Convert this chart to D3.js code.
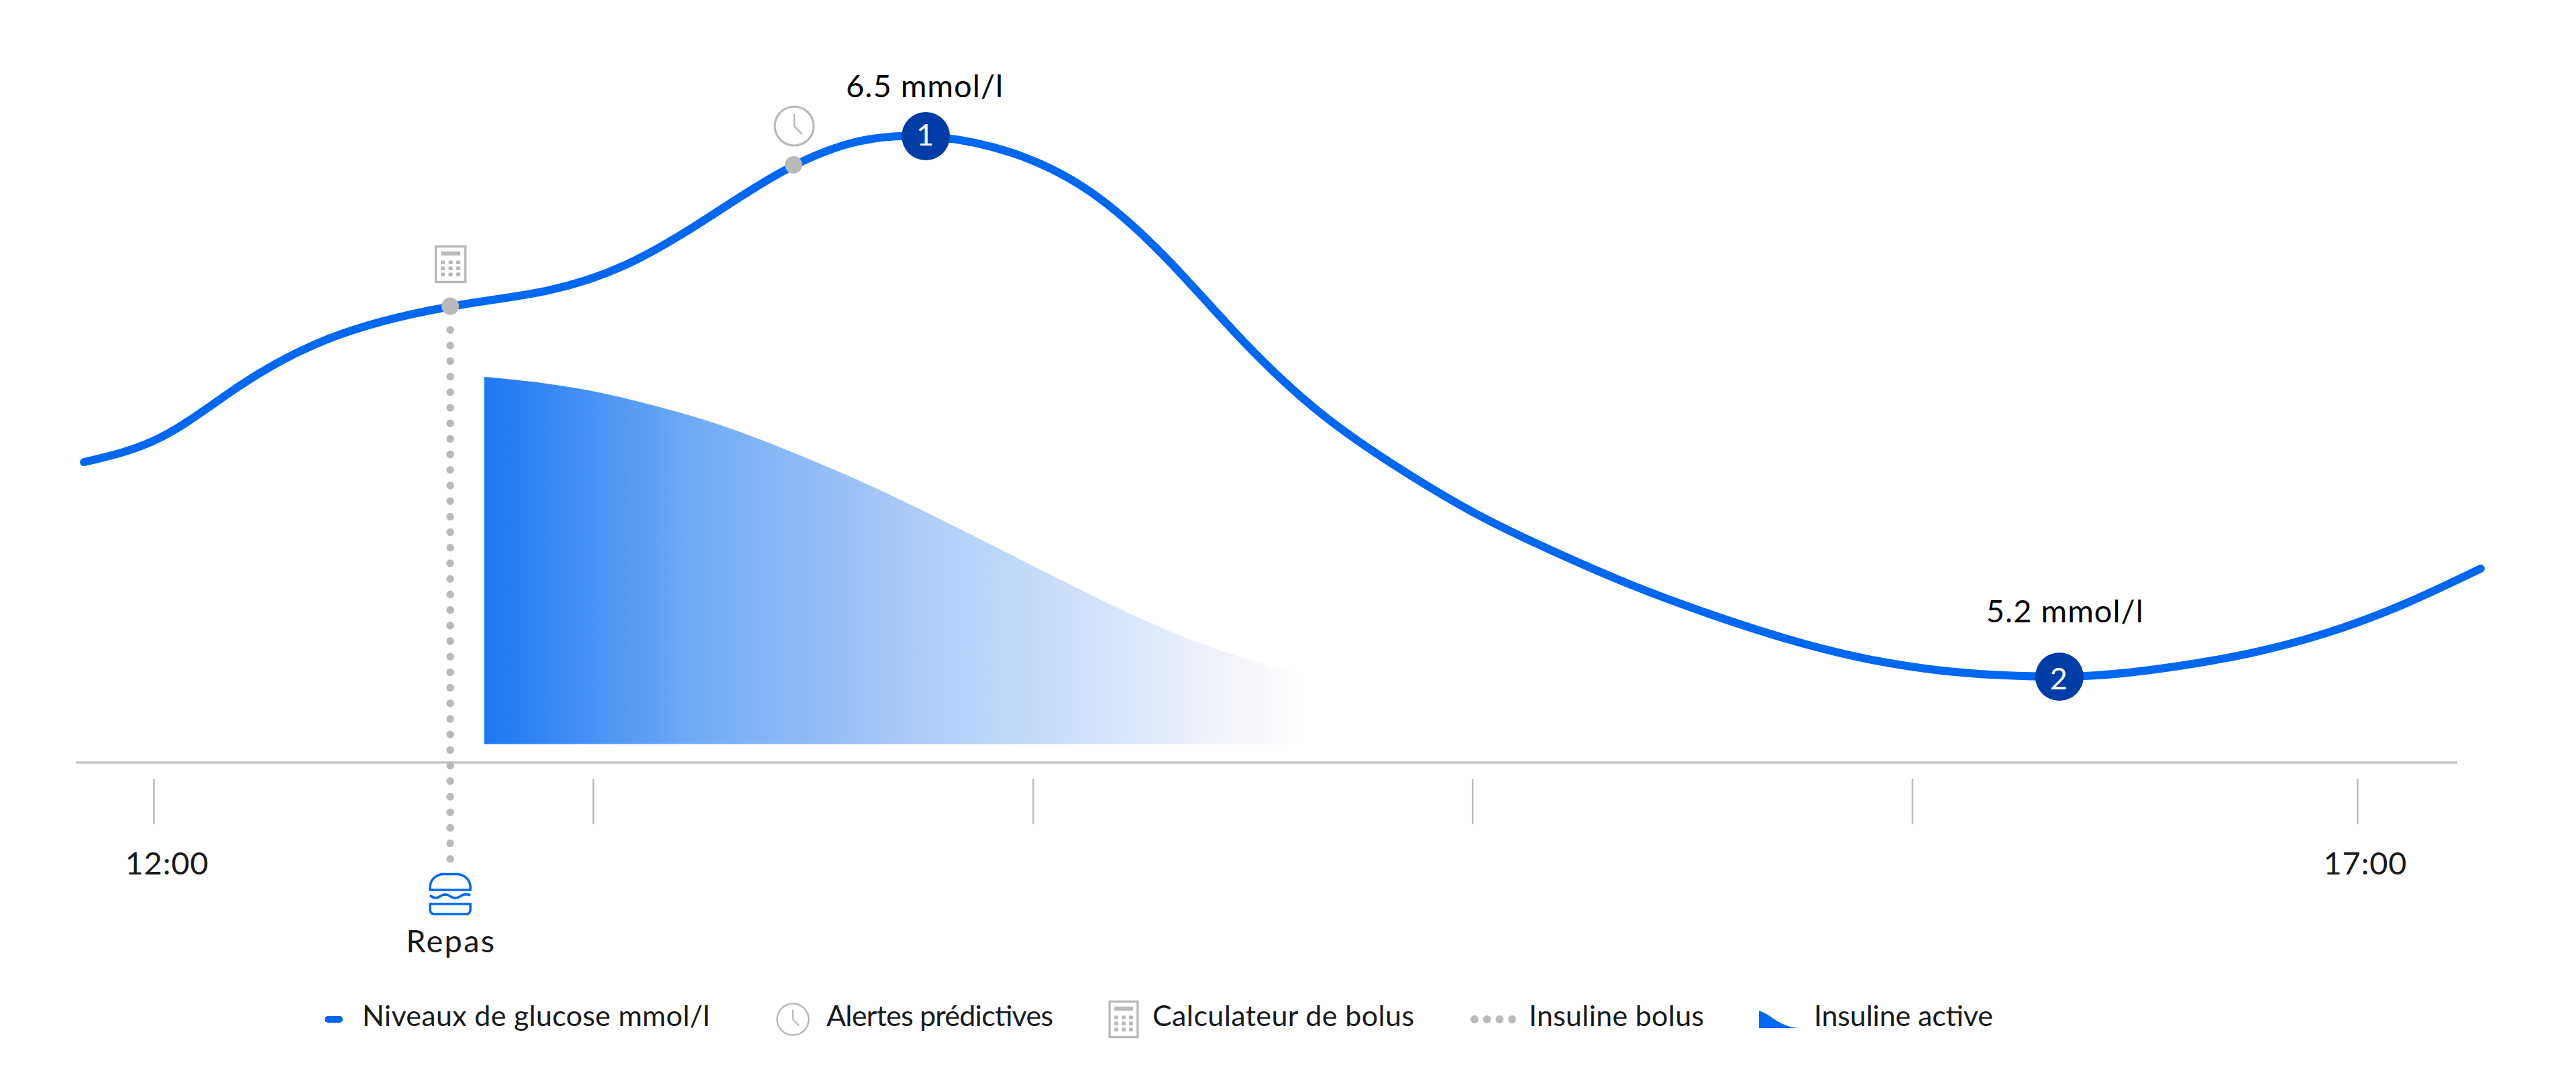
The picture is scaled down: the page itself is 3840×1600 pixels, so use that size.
<!DOCTYPE html>
<html>
<head>
<meta charset="utf-8">
<title>Glucose</title>
<script src="https://cdn.jsdelivr.net/npm/d3@7"></script>
<style>
    body { margin: 0; background: #fff; }
    text { font-family: Lato, "Open Sans", sans-serif; }
</style>
</head>
<body>
<script>
// values: time in hours, glucose in mmol/l
var glucoseHours = [11.842, 12.017, 12.193, 12.368, 12.543, 12.718, 12.895, 13.070, 13.245, 13.420,
    13.597, 13.772, 13.947, 14.123, 14.298, 14.473, 14.650, 14.825, 15.000, 15.175,
    15.352, 15.527, 15.702, 15.877, 16.053, 16.228, 16.403, 16.578, 16.755, 16.930,
    17.105, 17.280];
var glucoseValues = [5.716, 5.776, 5.898, 6.000, 6.061, 6.098, 6.129, 6.190, 6.295, 6.411,
    6.487, 6.498, 6.460, 6.368, 6.206, 6.006, 5.832, 5.702, 5.592, 5.502,
    5.421, 5.352, 5.292, 5.245, 5.215, 5.202, 5.203, 5.223, 5.256, 5.305,
    5.374, 5.460];

// active insulin, percent of the starting dose
var insulinHours = [12.750, 12.843, 12.970, 13.096, 13.222, 13.349, 13.473, 13.600,
    13.726, 13.852, 13.979, 14.105, 14.231, 14.358, 14.484, 14.604];
var insulinValues = [100, 98.9, 96.7, 93.4, 89.3, 84.2, 78.3, 71.8,
    64.7, 57.2, 49.5, 41.9, 34.6, 28.2, 23.0, 19.1];

// the small wedge in the legend has its own shape
var wedgeSteps = [0, 20, 40, 60, 80, 100];
var wedgeValues = [100, 80, 50, 25, 8, 0];

var tickHours = [12, 12.997, 13.995, 14.992, 15.990, 17];
var tickLabels = ["12:00", "", "", "", "", "17:00"];

var peakHours = [13.752, 16.324];
var peakValues = [6.5, 5.2];
var peakNames = ["1", "2"];
var peakLabels = ["6.5 mmol/l", "5.2 mmol/l"];

var mealHour = 12.673, mealGlucose = 6.091;
var alertHour = 13.452, alertGlucose = 6.431;

var legendLabels = ["Niveaux de glucose mmol/l", "Alertes prédictives", "Calculateur de bolus", "Insuline bolus", "Insuline active"];

var blue = "#0068f0", darkBlue = "#003da6", grey = "#b9b9b9", ink = "#1a1a1a";

var svg = d3.select("body").append("svg")
    .attr("width", 3840)
    .attr("height", 1600);

var x = d3.scaleLinear().domain([12, 17]).range([229, 3514]);
var y = d3.scaleLinear().domain([5.2, 6.5]).range([1009, 203]);
var yInsulin = d3.scaleLinear().domain([0, 100]).range([1109.5, 562]);

var glucose = glucoseHours.map(function(h, i) { return {h: h, v: glucoseValues[i]}; });
var insulin = insulinHours.map(function(h, i) { return {h: h, v: insulinValues[i]}; });
var wedge = wedgeSteps.map(function(s, i) { return {s: s, v: wedgeValues[i]}; });

// fade of the insulin area
var gradient = svg.append("defs").append("linearGradient").attr("id", "fade");
[[0, "#1e77f5"], [0.25, "#6eaaf5"], [0.5, "#a6c8f8"], [0.75, "#d3e3fb"], [0.92, "#f4f5fa"], [1, "#ffffff"]].forEach(function(s) {
    gradient.append("stop").attr("offset", s[0]).attr("stop-color", s[1]);
});

var insulinArea = d3.area()
    .x(function(d) { return x(d.h); })
    .y0(yInsulin(0))
    .y1(function(d) { return yInsulin(d.v); })
    .curve(d3.curveNatural);

svg.append("path")
    .datum(insulin)
    .attr("d", insulinArea)
    .attr("fill", "url(#fade)");

// axis: long rule, then detached ticks below it
svg.append("line")
    .attr("x1", 113).attr("x2", 3663)
    .attr("y1", 1137).attr("y2", 1137)
    .style("stroke", "#c4c4c4")
    .style("stroke-width", 3.5);

var xAxis = d3.axisBottom(x)
    .tickValues(tickHours)
    .tickSize(67)
    .tickFormat(function(d, i) { return tickLabels[i]; });

var axisG = svg.append("g")
    .attr("transform", "translate(0,1161.5)")
    .call(xAxis);
axisG.select(".domain").remove();
axisG.selectAll("line")
    .style("stroke", "#bbb")
    .style("stroke-width", 2.5);
axisG.selectAll("text")
    .attr("y", 142.5)
    .attr("dy", 0)
    .attr("dx", function(d, i) { return i == 0 ? 19 : 11; })
    .attr("textLength", function(d, i) { return tickLabels[i] ? 124 : null; })
    .style("font-family", "Lato")
    .style("font-size", "47px")
    .style("fill", ink);

// glucose curve
var line = d3.line()
    .x(function(d) { return x(d.h); })
    .y(function(d) { return y(d.v); })
    .curve(d3.curveNatural);

svg.append("path")
    .datum(glucose)
    .attr("d", line)
    .style("fill", "none")
    .style("stroke", blue)
    .style("stroke-width", 12)
    .style("stroke-linecap", "round");

// bolus dotted line
svg.append("line")
    .attr("x1", x(mealHour)).attr("x2", x(mealHour))
    .attr("y1", 492).attr("y2", 1282)
    .style("stroke", grey)
    .style("stroke-width", 11.5)
    .style("stroke-linecap", "round")
    .style("stroke-dasharray", "0 23.2");

svg.append("circle")
    .attr("cx", x(mealHour)).attr("cy", y(mealGlucose))
    .attr("r", 13)
    .attr("fill", grey);
svg.append("circle")
    .attr("cx", x(alertHour)).attr("cy", y(alertGlucose))
    .attr("r", 13)
    .attr("fill", grey);

function drawClock(cx, cy, k) {
    var g = svg.append("g").attr("transform", "translate(" + cx + "," + cy + ") scale(" + k + ")");
    g.append("circle").attr("r", 29)
        .style("fill", "#fff").style("stroke", grey).style("stroke-width", 3.2);
    g.append("path").attr("d", "M0,-18V0L11.5,12")
        .style("fill", "none").style("stroke", grey).style("stroke-width", 2.6);
}

function drawCalc(cx, cy, kx) {
    var g = svg.append("g").attr("transform", "translate(" + cx + "," + cy + ") scale(" + kx + ",1)");
    g.append("rect").attr("x", -22).attr("y", -26.5).attr("width", 44).attr("height", 53)
        .style("fill", "#fff").style("stroke", grey).style("stroke-width", 3.5);
    g.append("rect").attr("x", -14.5).attr("y", -19).attr("width", 29).attr("height", 6).attr("fill", grey);
    [-5.5, 3.5, 12.5].forEach(function(ky) {
        [-14.5, -3, 8.5].forEach(function(kx2) {
            g.append("rect").attr("x", kx2).attr("y", ky).attr("width", 6).attr("height", 5.5).attr("fill", grey);
        });
    });
}

drawClock(x(alertHour) + 1, 188, 1);
drawCalc(x(mealHour) + 0.5, 394, 1);

// numbered peak markers
peakHours.forEach(function(h, i) {
    var px = x(h), py = y(peakValues[i]);
    svg.append("circle").attr("cx", px).attr("cy", py).attr("r", 36).attr("fill", darkBlue);
    svg.append("text")
        .attr("x", px - 1).attr("y", py + (i == 0 ? 14 : 19))
        .attr("text-anchor", "middle")
        .style("font-size", "45px")
        .style("fill", "#fff")
        .text(peakNames[i]);
    svg.append("text")
        .attr("x", px + (i == 0 ? -2 : 8)).attr("y", py + (i == 0 ? -58 : -81))
        .attr("text-anchor", "middle")
        .attr("textLength", 234)
        .style("font-size", "47px")
        .style("fill", "#000")
        .text(peakLabels[i]);
});

// meal icon + label
var burger = svg.append("g")
    .attr("transform", "translate(" + x(mealHour) + ",1302)")
    .style("fill", "none")
    .style("stroke", blue)
    .style("stroke-width", 3.6);
burger.append("path").attr("d", "M-30,25V21C-30,9 -20,1.5 -10,1.5H10C20,1.5 30,9 30,21V25Z");
burger.append("path").attr("d", "M-30,33C-25,38 -20,38 -15,34.5C-10,31 -5,31 0,34.5C5,38 10,38 15,34.5C20,31 25,31 30,33");
burger.append("path").attr("d", "M-30,46H30V55C30,59 27,61 23,61H-23C-27,61 -30,59 -30,55Z");

svg.append("text")
    .attr("x", x(mealHour)).attr("y", 1420)
    .attr("text-anchor", "middle")
    .attr("textLength", 132)
    .style("font-size", "47px")
    .style("fill", ink)
    .text("Repas");

// legend
var legendTextX = [540, 1232, 1718, 2279, 2704];
var legendTextW = [518, 338, 390, 261, 267];
svg.selectAll(".legend-label")
    .data(legendLabels)
    .enter().append("text")
    .attr("class", "legend-label")
    .attr("x", function(d, i) { return legendTextX[i]; })
    .attr("y", 1530)
    .attr("textLength", function(d, i) { return legendTextW[i]; })
    .style("font-size", "43px")
    .style("fill", ink)
    .text(function(d) { return d; });

svg.append("rect")
    .attr("x", 484).attr("y", 1515).attr("width", 27).attr("height", 10).attr("rx", 5)
    .attr("fill", blue);
drawClock(1182, 1520, 0.81);
drawCalc(1675, 1520, 0.95);
svg.selectAll(".legend-dot")
    .data([0, 1, 2, 3])
    .enter().append("circle")
    .attr("class", "legend-dot")
    .attr("cx", function(d) { return 2198 + d * 18.7; })
    .attr("cy", 1520)
    .attr("r", 6)
    .attr("fill", grey);

var xMini = d3.scaleLinear().domain([0, 100]).range([2622, 2680]);
var yMini = d3.scaleLinear().domain([0, 100]).range([1533, 1507]);
svg.append("path")
    .datum(wedge)
    .attr("d", d3.area()
        .x(function(d) { return xMini(d.s); })
        .y0(yMini(0))
        .y1(function(d) { return yMini(d.v); })
        .curve(d3.curveMonotoneX))
    .attr("fill", blue);
</script>
</body>
</html>
